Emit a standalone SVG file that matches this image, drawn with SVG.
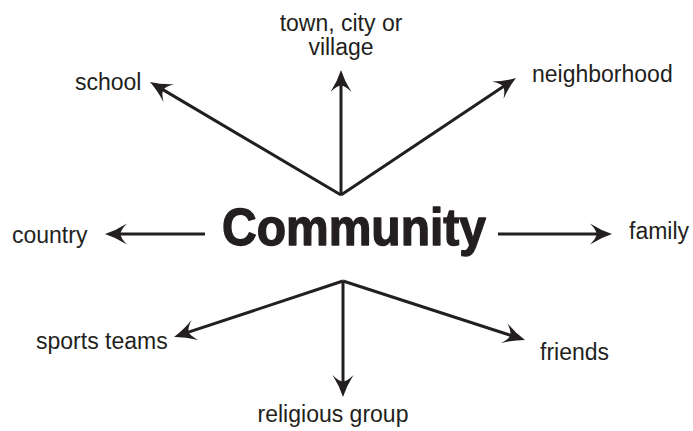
<svg xmlns="http://www.w3.org/2000/svg" width="693" height="431" viewBox="0 0 693 431">
<style>
.lbl{font-family:"Liberation Sans",Arial,Helvetica,sans-serif;font-size:23px;fill:#231f20}
.title{font-family:"Liberation Sans",Arial,Helvetica,sans-serif;font-size:52px;font-weight:bold;fill:#231f20;stroke:#231f20;stroke-width:1.4;stroke-linejoin:round}
.ar{stroke:#231f20;stroke-width:3;fill:none;marker-end:url(#ah)}
</style>
<defs>
<marker id="ah" viewBox="0 -11 23 22" refX="10" refY="0" markerWidth="23" markerHeight="22" markerUnits="userSpaceOnUse" orient="auto">
<path d="M22,0 Q11,-3.5 0,-10.5 Q6.5,-4 6.5,0 Q6.5,4 0,10.5 Q11,3.5 22,0 Z" fill="#231f20"/>
</marker>
</defs>
<rect width="693" height="431" fill="#fff"/>
<g id="connectors">
<line class="ar" x1="341" y1="195" x2="160.3" y2="88.1"/>
<line class="ar" x1="341" y1="195" x2="341" y2="82"/>
<line class="ar" x1="341" y1="195" x2="506" y2="84.7"/>
<line class="ar" x1="343" y1="281" x2="185.4" y2="333.2"/>
<line class="ar" x1="343" y1="281" x2="343" y2="385"/>
<line class="ar" x1="343" y1="281" x2="513.6" y2="336.3"/>
<line class="ar" x1="205" y1="234" x2="117" y2="234"/>
<line class="ar" x1="498" y1="234" x2="600" y2="234"/>
</g>
<g id="community"><text class="title" x="354" y="245" text-anchor="middle" textLength="264" lengthAdjust="spacingAndGlyphs">Community</text></g>
<g id="school"><text class="lbl" x="75" y="90">school</text></g>
<g id="town"><text class="lbl" x="341" y="31" text-anchor="middle">town, city or</text><text class="lbl" x="341" y="55" text-anchor="middle">village</text></g>
<g id="neighborhood"><text class="lbl" x="532" y="82">neighborhood</text></g>
<g id="country"><text class="lbl" x="12" y="243">country</text></g>
<g id="family"><text class="lbl" x="629" y="239">family</text></g>
<g id="sports"><text class="lbl" x="36" y="349">sports teams</text></g>
<g id="friends"><text class="lbl" x="540" y="360">friends</text></g>
<g id="religious"><text class="lbl" x="333" y="422" text-anchor="middle">religious group</text></g>
</svg>
